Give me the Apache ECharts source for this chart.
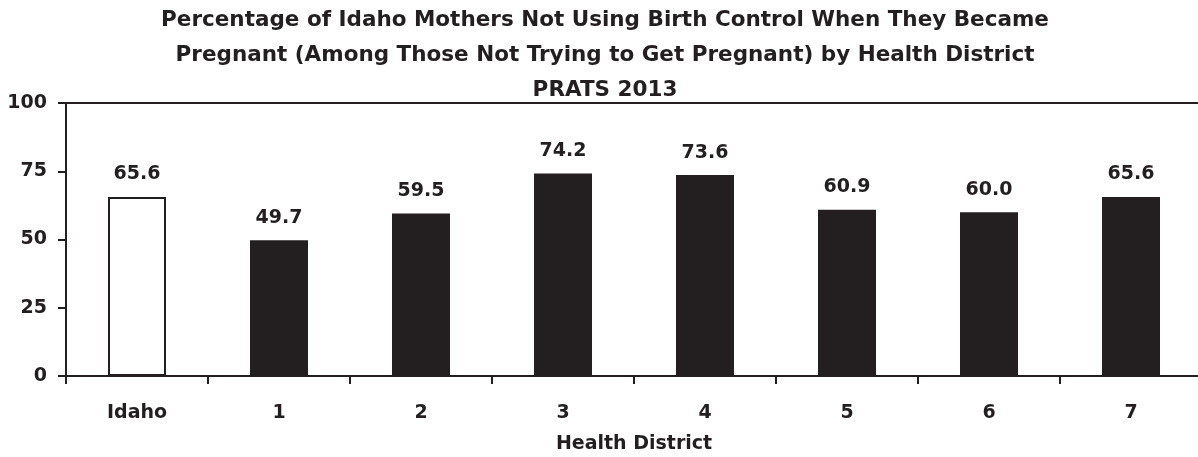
<!DOCTYPE html>
<html><head><meta charset="utf-8">
<script src="https://cdn.jsdelivr.net/npm/echarts@6/dist/echarts.min.js"></script>
<style>html,body{margin:0;padding:0;background:#fff}#c{width:1198px;height:457px}</style>
</head><body><div id="c"></div>
<script>
const categories = ['Idaho', '1', '2', '3', '4', '5', '6', '7'];
const values = [65.6, 49.7, 59.5, 74.2, 73.6, 60.9, 60.0, 65.6];
const yTicks = [0, 25, 50, 75, 100];
const titleLines = [
  'Percentage of Idaho Mothers Not Using Birth Control When They Became',
  'Pregnant (Among Those Not Trying to Get Pregnant) by Health District',
  'PRATS 2013'
];
const xName = 'Health District';

const FONT = 'DejaVu Sans';
const INK = '#231f20';
const chart = echarts.init(document.getElementById('c'), null, {renderer: 'canvas'});
chart.setOption({
  animation: false,
  title: {
    text: titleLines.join('\n'),
    left: 600, top: -2, textAlign: 'center',
    textStyle: {fontFamily: FONT, fontWeight: 'bold', fontSize: 21.5, lineHeight: 35, color: INK}
  },
  grid: {left: 66, top: 103, width: 1136, height: 273, outerBoundsMode: 'none', containLabel: false,
    show: true, borderColor: INK, borderWidth: 2, backgroundColor: 'transparent'},
  xAxis: {
    type: 'category', data: categories,
    name: xName, nameLocation: 'middle', nameGap: 59,
    nameTextStyle: {fontFamily: FONT, fontWeight: 'bold', fontSize: 19, color: INK},
    axisLine: {lineStyle: {color: INK, width: 2}},
    axisTick: {show: true, alignWithLabel: false, length: 8, lineStyle: {color: INK, width: 2}},
    axisLabel: {fontFamily: FONT, fontWeight: 'bold', fontSize: 19, color: INK, margin: 28}
  },
  yAxis: {
    type: 'value', min: 0, max: 100, interval: 25,
    axisLine: {show: true, lineStyle: {color: INK, width: 2}},
    axisTick: {show: true, length: 8, lineStyle: {color: INK, width: 2}},
    splitLine: {show: false},
    axisLabel: {fontFamily: FONT, fontWeight: 'bold', fontSize: 19, color: INK, margin: 19,
      formatter: v => yTicks.includes(v) ? String(v) : ''}
  },
  series: [{
    type: 'bar', barWidth: 58,
    data: values.map((v, i) => ({
      value: v,
      itemStyle: i === 0 ? {color: '#fff', borderColor: INK, borderWidth: 2} : {color: INK}
    })),
    label: {show: true, position: 'top', distance: 13, formatter: p => p.value.toFixed(1),
      fontFamily: FONT, fontWeight: 'bold', fontSize: 19, color: INK}
  }]
});
</script></body></html>
